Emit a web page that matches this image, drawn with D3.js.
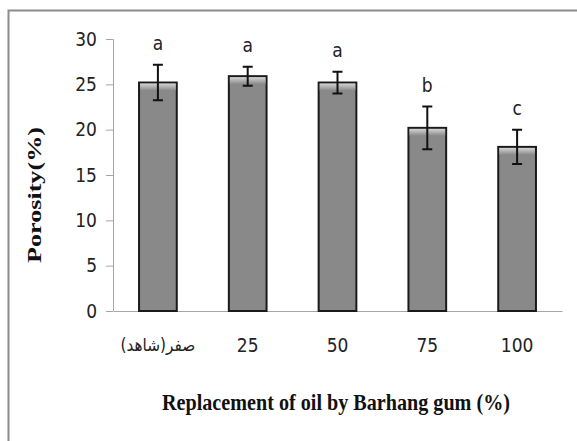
<!DOCTYPE html>
<html lang="en">

<head>
	<meta charset="UTF-8">
	<title>Porosity</title>
	<style type="text/css">
		body { margin: 0; background: #fff; }
		.tick text { font-family: "Liberation Sans Narrow", "DejaVu Sans Condensed", sans-serif; font-size: 19px; fill: #222; }
	</style>
</head>

<body>
	<div id="chart"></div>

	<script src="https://d3js.org/d3.v7.min.js"></script>
	<script>
		// first label: "control (zero)" in Persian, wrapped in an RTL embedding
		var categories = ['\u202B\u0635\u0641\u0631(\u0634\u0627\u0647\u062F)\u202C', '25', '50', '75', '100'];
		var porosity = [25.2, 25.9, 25.2, 20.2, 18.1];
		var errors = [1.95, 1.05, 1.2, 2.35, 1.9];
		var letters = ['a', 'a', 'a', 'b', 'c'];
		var yTicks = [0, 5, 10, 15, 20, 25, 30];

		var W = 577, H = 441;
		var margin = { top: 39, right: 15, bottom: 130, left: 113 };
		var width = 562 - margin.left;
		var height = 311 - margin.top;

		var root = d3.select('#chart')
			.append('svg')
			.attr('width', W)
			.attr('height', H);

		// outer frame, cut off on right and bottom like the scan
		root.append('path')
			.attr('d', 'M8.5,' + H + ' V10.5 H' + W)
			.attr('fill', 'none')
			.attr('stroke', '#8c8c8c')
			.attr('stroke-width', 2);

		var svg = root.append('g')
			.attr('transform', `translate(${margin.left}, ${margin.top})`);

		var xScale = d3.scaleBand()
			.domain(categories)
			.range([0, width]);

		var yScale = d3.scaleLinear()
			.domain([0, 30])
			.range([height, 0]);

		var barW = xScale.bandwidth() * 0.42;

		var defs = root.append('defs');
		var grad = defs.append('linearGradient')
			.attr('id', 'shine')
			.attr('x1', 0).attr('y1', 0).attr('x2', 0).attr('y2', 1);
		grad.append('stop').attr('offset', 0).attr('stop-color', '#d4d4d4');
		grad.append('stop').attr('offset', 1).attr('stop-color', '#898989');

		// y axis
		var yAxis = svg.append('g')
			.call(d3.axisLeft(yScale).tickValues(yTicks).tickSize(7).tickPadding(9));
		yAxis.selectAll('line, path').attr('stroke', '#a6a6a6');
		yAxis.select('.domain').attr('d', `M-7,0.5 H0.5 V${height}`);

		// x axis
		var xAxis = svg.append('g')
			.attr('transform', `translate(0, ${height})`)
			.call(d3.axisBottom(xScale).tickSize(0).tickPadding(34));
		xAxis.select('.domain').attr('stroke', '#a6a6a6');
		xAxis.selectAll('.tick text')
			.attr('dy', '0.35em')
			.filter((d, i) => i === 0)
			.style('font-size', '17px');

		// bars
		var bars = svg.selectAll('.bar')
			.data(porosity)
			.enter().append('g')
			.attr('class', 'bar');

		bars.append('rect')
			.attr('x', (d, i) => xScale(categories[i]) + (xScale.bandwidth() - barW) / 2)
			.attr('y', d => yScale(d))
			.attr('width', barW)
			.attr('height', d => height - yScale(d))
			.attr('fill', '#898989')
			.attr('stroke', '#1a1a1a')
			.attr('stroke-width', 2);

		bars.append('rect')
			.attr('x', (d, i) => xScale(categories[i]) + (xScale.bandwidth() - barW) / 2 + 1)
			.attr('y', d => yScale(d) + 1)
			.attr('width', barW - 2)
			.attr('height', 7)
			.attr('fill', 'url(#shine)');

		// error bars
		var cx = (i) => xScale(categories[i]) + xScale.bandwidth() / 2;
		bars.append('path')
			.attr('d', (d, i) => {
				var x = cx(i), y1 = yScale(d + errors[i]), y2 = yScale(d - errors[i]);
				return `M${x - 5},${y1} H${x + 5} M${x},${y1} V${y2} M${x - 5},${y2} H${x + 5}`;
			})
			.attr('fill', 'none')
			.attr('stroke', '#111')
			.attr('stroke-width', 2);

		// significance letters
		bars.append('text')
			.attr('x', (d, i) => cx(i))
			.attr('y', (d, i) => yScale(d + errors[i]) - 15)
			.attr('text-anchor', 'middle')
			.style('font-family', '"Liberation Sans Narrow", "DejaVu Sans Condensed", sans-serif')
			.style('font-size', '19px')
			.attr('fill', '#222')
			.text((d, i) => letters[i]);

		// axis titles
		root.append('text')
			.attr('x', 336)
			.attr('y', 410)
			.attr('text-anchor', 'middle')
			.attr('textLength', 348)
			.attr('lengthAdjust', 'spacingAndGlyphs')
			.style('font-family', '"Liberation Serif", "Times New Roman", serif')
			.style('font-weight', 'bold')
			.style('font-size', '24px')
			.attr('fill', '#111')
			.text('Replacement of oil by Barhang gum (%)');

		root.append('text')
			.attr('transform', 'translate(41, 195) rotate(-90)')
			.attr('text-anchor', 'middle')
			.attr('textLength', 136)
			.attr('lengthAdjust', 'spacingAndGlyphs')
			.style('font-family', '"Liberation Serif", "Times New Roman", serif')
			.style('font-weight', 'bold')
			.style('font-size', '19px')
			.attr('fill', '#111')
			.text('Porosity(%)');
	</script>
</body>

</html>
